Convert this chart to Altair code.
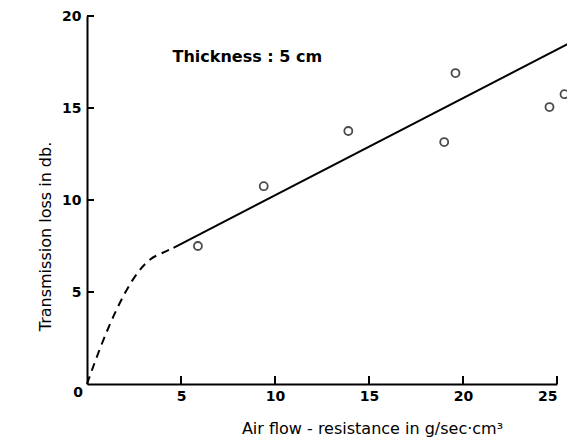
import altair as alt
import pandas as pd

# measured points
pt_x = [5.9, 9.4, 13.9, 19.0, 19.6, 24.6, 25.4]
pt_y = [7.5, 10.75, 13.75, 13.15, 16.9, 15.05, 15.75]

# solid fitted line
line_x = [4.6, 25.9]
line_y = [7.4, 18.65]

# dashed low-resistance curve
dash_x = [0.0, 0.7, 1.6, 2.46, 3.36, 4.0, 4.6]
dash_y = [0.0, 1.95, 4.1, 5.7, 6.77, 7.12, 7.4]

x_ticks = [5, 10, 15, 20, 25]
y_ticks = [5, 10, 15, 20]
origin_label = "0"

annotation = "Thickness : 5 cm"
x_title = "Air  flow - resistance  in  g/sec·cm³"
y_title = "Transmission  loss  in  db."

W, H = 470, 368
FONT = "DejaVu Sans"

xs = alt.Scale(domain=[0, 25], nice=False, zero=True)
ys = alt.Scale(domain=[0, 20], nice=False, zero=True)

pts = pd.DataFrame({"x": pt_x, "y": pt_y})
ln = pd.DataFrame({"x": line_x, "y": line_y})
ds = pd.DataFrame({"x": dash_x, "y": dash_y})
xt = pd.DataFrame({"v": x_ticks})
yt = pd.DataFrame({"v": y_ticks})
ann = pd.DataFrame({"x": [4.55], "y": [17.5], "t": [annotation]})
org = pd.DataFrame({"x": [0], "y": [0], "t": [origin_label]})

base_x = alt.X("x:Q", scale=xs, axis=alt.Axis(
    values=x_ticks, format="d", title=x_title, ticks=False, grid=False,
    domainColor="black", domainWidth=2, labelFont=FONT, labelFontSize=14,
    labelFontWeight="bold", labelColor="black", labelPadding=5,
    titleFont=FONT, titleFontSize=16, titleFontWeight="normal", titleColor="black",
    titleX=285, titleY=49, titleBaseline="alphabetic", titleAlign="center"))
base_y = alt.Y("y:Q", scale=ys, axis=alt.Axis(
    values=y_ticks, format="d", title=y_title, ticks=False, grid=False,
    domainColor="black", domainWidth=2, labelFont=FONT, labelFontSize=14,
    labelFontWeight="bold", labelColor="black", labelPadding=6,
    titleFont=FONT, titleFontSize=16, titleFontWeight="normal", titleColor="black",
    titleX=-37, titleY=220, titleBaseline="alphabetic", titleAlign="center",
    titleAngle=270))

points = alt.Chart(pts).mark_point(
    shape="circle", size=64, filled=False, color="black", strokeWidth=1.8
).encode(x=base_x, y=base_y)

solid = alt.Chart(ln).mark_line(color="black", strokeWidth=2).encode(
    x=alt.X("x:Q", scale=xs), y=alt.Y("y:Q", scale=ys))

dashed = alt.Chart(ds).mark_line(
    color="black", strokeWidth=2, strokeDash=[8, 6], interpolate="monotone"
).encode(x=alt.X("x:Q", scale=xs), y=alt.Y("y:Q", scale=ys))

xtick = alt.Chart(xt).mark_rule(color="black", strokeWidth=2).encode(
    x=alt.X("v:Q", scale=xs), y=alt.value(H), y2=alt.value(H - 8))
ytick = alt.Chart(yt).mark_rule(color="black", strokeWidth=2).encode(
    y=alt.Y("v:Q", scale=ys), x=alt.value(0), x2=alt.value(7))

text = alt.Chart(ann).mark_text(
    align="left", baseline="alphabetic", font=FONT, fontSize=16,
    fontWeight="bold", color="black"
).encode(x=alt.X("x:Q", scale=xs), y=alt.Y("y:Q", scale=ys), text="t:N")

origin = alt.Chart(org).mark_text(
    align="center", baseline="middle", font=FONT, fontSize=14,
    fontWeight="bold", color="black", dx=-9, dy=9
).encode(x=alt.X("x:Q", scale=xs), y=alt.Y("y:Q", scale=ys), text="t:N")

chart = alt.layer(points, solid, dashed, xtick, ytick, text, origin).properties(
    width=W, height=H,
    autosize=alt.AutoSizeParams(type="none"),
    padding={"left": 79, "top": 8, "right": 10, "bottom": 56},
    background="white",
).configure_view(stroke=None)

chart.save("out.html", embed_options={"renderer": "svg", "actions": False})
